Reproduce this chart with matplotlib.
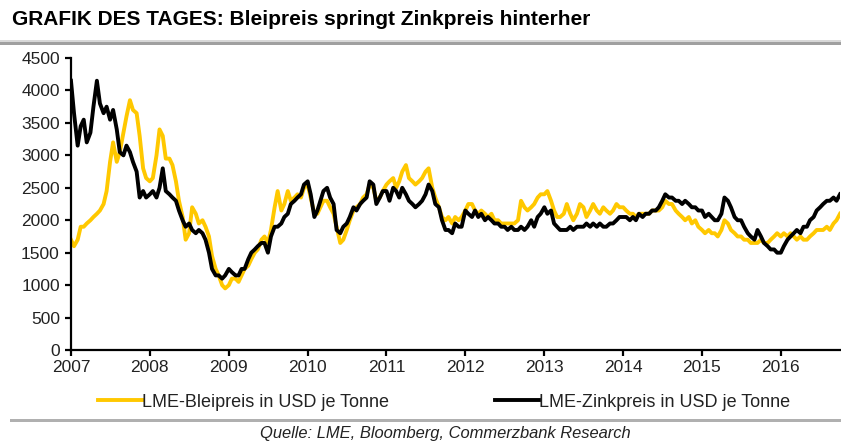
import numpy as np
import pandas as pd
import matplotlib
matplotlib.use('Agg')  # no display
import matplotlib.pyplot as plt
from matplotlib.lines import Line2D
from matplotlib.patches import Rectangle

plt.rcParams['font.family'] = ['Liberation Sans', 'DejaVu Sans']

lead_2007 = [1700, 1600, 1700, 1900, 1900, 1950, 2000, 2050, 2100, 2150, 2250, 2450,
             2900, 3200, 2900, 3050, 3350, 3600, 3850, 3700, 3650, 3300, 2800, 2650]
lead_2008 = [2600, 2650, 3000, 3400, 3300, 2950, 2950, 2850, 2600, 2300, 2050, 1700,
             1800, 2200, 2100, 1950, 2000, 1900, 1750, 1450, 1250, 1150, 1000, 950]
lead_2009 = [1000, 1100, 1100, 1050, 1150, 1250, 1300, 1400, 1500, 1550, 1700, 1750,
             1650, 1850, 2200, 2450, 2150, 2250, 2450, 2300, 2350, 2400, 2350, 2500]
lead_2010 = [2550, 2350, 2100, 2100, 2200, 2300, 2300, 2200, 2100, 1900, 1650, 1700,
             1850, 2000, 2150, 2200, 2250, 2350, 2400, 2550, 2500, 2300, 2350, 2450]
lead_2011 = [2550, 2600, 2650, 2500, 2600, 2750, 2850, 2650, 2600, 2550, 2600, 2650,
             2750, 2800, 2500, 2350, 2200, 2050, 2000, 2050, 1950, 2050, 2000, 2050]
lead_2012 = [2150, 2250, 2250, 2150, 2100, 2150, 2100, 2050, 2100, 2000, 2000, 1950,
             1950, 1950, 1950, 1950, 2000, 2300, 2200, 2150, 2200, 2250, 2350, 2400]
lead_2013 = [2400, 2450, 2300, 2150, 2050, 2050, 2100, 2250, 2100, 2000, 2100, 2250,
             2200, 2050, 2150, 2250, 2150, 2100, 2200, 2150, 2100, 2150, 2250, 2200]
lead_2014 = [2200, 2150, 2100, 2100, 2050, 2100, 2100, 2100, 2100, 2150, 2150, 2150,
             2200, 2300, 2250, 2250, 2150, 2100, 2050, 2000, 2050, 1950, 2000, 1900]
lead_2015 = [1850, 1800, 1850, 1800, 1800, 1750, 1850, 2000, 1950, 1850, 1800, 1750,
             1750, 1700, 1700, 1650, 1650, 1650, 1700, 1650, 1650, 1700, 1750, 1800]
lead_2016 = [1750, 1800, 1750, 1800, 1750, 1700, 1750, 1700, 1700, 1750, 1800, 1850,
             1850, 1850, 1900, 1850, 1950, 2000, 2100]

# LME zinc price, USD per tonne, same dates
zinc_2007 = [4150, 3650, 3150, 3450, 3550, 3200, 3350, 3750, 4150, 3800, 3650, 3750,
             3550, 3700, 3400, 3050, 3000, 3150, 3050, 2900, 2750, 2350, 2450, 2350]
zinc_2008 = [2400, 2450, 2350, 2500, 2800, 2450, 2400, 2350, 2300, 2150, 2000, 1900,
             1950, 1850, 1800, 1850, 1800, 1700, 1500, 1250, 1150, 1150, 1100, 1150]
zinc_2009 = [1250, 1200, 1150, 1150, 1250, 1250, 1400, 1500, 1550, 1600, 1650, 1650,
             1500, 1750, 1900, 1900, 1950, 2050, 2100, 2250, 2300, 2350, 2400, 2550]
zinc_2010 = [2600, 2400, 2050, 2150, 2300, 2450, 2500, 2350, 2250, 1850, 1800, 1900,
             1950, 2050, 2200, 2150, 2250, 2300, 2350, 2600, 2550, 2250, 2350, 2450]
zinc_2011 = [2450, 2300, 2500, 2450, 2350, 2500, 2400, 2300, 2250, 2200, 2250, 2300,
             2400, 2550, 2450, 2250, 2200, 2000, 1850, 1850, 1800, 1950, 1900, 1900]
zinc_2012 = [2150, 2100, 2050, 2150, 2050, 2100, 2000, 2050, 2000, 1950, 1950, 1900,
             1900, 1850, 1900, 1850, 1850, 1900, 1850, 1900, 2000, 1900, 2050, 2100]
zinc_2013 = [2200, 2100, 2150, 1950, 1900, 1850, 1850, 1850, 1900, 1850, 1900, 1900,
             1900, 1950, 1900, 1950, 1900, 1950, 1900, 1900, 1950, 1950, 2000, 2050]
zinc_2014 = [2050, 2050, 2000, 2050, 2000, 2100, 2050, 2100, 2100, 2150, 2150, 2200,
             2300, 2400, 2350, 2350, 2300, 2300, 2250, 2300, 2250, 2200, 2200, 2150]
zinc_2015 = [2150, 2050, 2100, 2050, 2000, 2000, 2100, 2350, 2300, 2200, 2050, 2000,
             2000, 1900, 1800, 1750, 1700, 1850, 1750, 1650, 1600, 1550, 1550, 1500]
zinc_2016 = [1500, 1600, 1700, 1750, 1800, 1850, 1800, 1900, 1900, 2000, 2050, 2150,
             2200, 2250, 2300, 2300, 2350, 2300, 2400]

lead = (lead_2007 + lead_2008 + lead_2009 + lead_2010 + lead_2011 +
        lead_2012 + lead_2013 + lead_2014 + lead_2015 + lead_2016)
zinc = (zinc_2007 + zinc_2008 + zinc_2009 + zinc_2010 + zinc_2011 +
        zinc_2012 + zinc_2013 + zinc_2014 + zinc_2015 + zinc_2016)

years = list(range(2007, 2017))
y_ticks = list(range(0, 4501, 500))

dates = pd.date_range('2007-01-01', periods=len(lead), freq='SMS')

LEAD_COLOR = '#FFC800'
ZINC_COLOR = '#000000'
TEXT_COLOR = '#222222'

fig = plt.figure(figsize=(8.41, 4.42), dpi=100)
fig.patch.set_facecolor('white')
ax = fig.add_axes([0.0844, 0.2081, 0.9144, 0.6606])

ax.plot(dates, lead, color=LEAD_COLOR, lw=2.8, solid_joinstyle='round', zorder=2)
ax.plot(dates, zinc, color=ZINC_COLOR, lw=2.8, solid_joinstyle='round', zorder=3)

ax.set_ylim(0, 4500)
ax.set_yticks(y_ticks)
ax.set_xlim(pd.Timestamp('2007-01-01'), pd.Timestamp('2016-10-01'))
ax.set_xticks([pd.Timestamp(f'{y}-01-01') for y in years])
ax.set_xticklabels([str(y) for y in years])

for side in ['top', 'right']:
    ax.spines[side].set_visible(False)
for side in ['left', 'bottom']:
    ax.spines[side].set_color('black')
    ax.spines[side].set_linewidth(1.6)
ax.tick_params(axis='both', colors='black', labelcolor=TEXT_COLOR, labelsize=12.5,
               width=1.6, length=4, direction='out')
ax.tick_params(axis='x', pad=3)
ax.tick_params(axis='y', pad=4)

# header
fig.text(0.014, 0.956, 'GRAFIK DES TAGES: Bleipreis springt Zinkpreis hinterher',
         fontsize=15, fontweight='bold', color='black', ha='left', va='center')
fig.add_artist(Rectangle((0.0, 0.904), 1.0, 0.006, transform=fig.transFigure,
                         color='#d8d8d8', lw=0))
fig.add_artist(Rectangle((0.0, 0.898), 1.0, 0.007, transform=fig.transFigure,
                         color='#a0a0a0', lw=0))

# legend drawn as a row under the axis
handles = [Line2D([], [], color=LEAD_COLOR, lw=2.8),
           Line2D([], [], color=ZINC_COLOR, lw=2.8)]
labels = ['LME-Bleipreis in USD je Tonne', 'LME-Zinkpreis in USD je Tonne']
fig.legend(handles, labels, loc='center', bbox_to_anchor=(0.528, 0.09), ncol=2,
           frameon=False, fontsize=13, handlelength=2.4, handletextpad=0.0,
           columnspacing=5.9, labelcolor=TEXT_COLOR)

# footer
fig.add_artist(Rectangle((0.012, 0.046), 0.988, 0.006, transform=fig.transFigure,
                         color='#b0b0b0', lw=0))
fig.text(0.529, 0.02, 'Quelle: LME, Bloomberg, Commerzbank Research', fontsize=11.9,
         style='italic', color=TEXT_COLOR, ha='center', va='center')

fig.savefig('out.png', dpi=100, facecolor='white')
